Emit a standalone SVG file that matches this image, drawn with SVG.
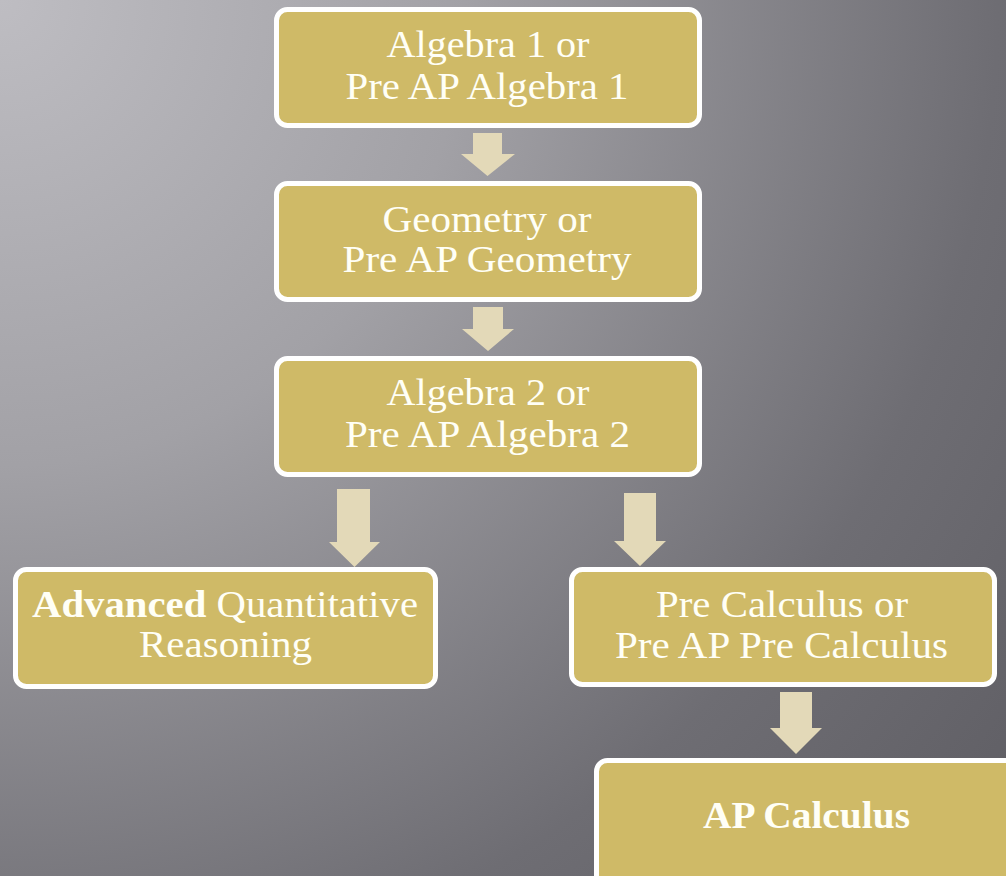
<svg xmlns="http://www.w3.org/2000/svg" width="1006" height="876" viewBox="0 0 1006 876">
<defs>
<radialGradient id="bg" gradientUnits="userSpaceOnUse" cx="0" cy="0" r="1330">
<stop offset="0" stop-color="#bebdc2"/>
<stop offset="0.35" stop-color="#a2a1a6"/>
<stop offset="0.75" stop-color="#6e6d73"/>
<stop offset="1" stop-color="#5e5d63"/>
</radialGradient>
<style>
.box{fill:#cfba67;stroke:#ffffff;stroke-width:5}
.t{font-family:"Liberation Serif","Times New Roman",serif;font-size:38px;fill:#fffff6;text-anchor:middle}
.b{font-weight:bold}
.arr{fill:#e3d9b8}
</style>
</defs>
<rect width="1006" height="876" fill="url(#bg)"/>
<g id="connectors">
<polygon class="arr" points="473,133 502,133 502,154 515,154 487.5,176 461,154 473,154"/>
<polygon class="arr" points="473,307 503,307 503,329 514,329 488,351 462,329 473,329"/>
<polygon class="arr" points="337,489 370,489 370,542 380,542 354.5,567 329,542 337,542"/>
<polygon class="arr" points="624,493 656,493 656,541 666,541 640,566 614,541 624,541"/>
<polygon class="arr" points="780,692 812,692 812,728 822,728 796,754 770,728 780,728"/>
</g>
<g id="n1">
<rect class="box" x="276.5" y="9.5" width="423" height="116" rx="11"/>
<text class="t" x="488" y="57" textLength="203" lengthAdjust="spacingAndGlyphs">Algebra 1 or</text>
<text class="t" x="487" y="99" textLength="283" lengthAdjust="spacingAndGlyphs">Pre AP Algebra 1</text>
</g>
<g id="n2">
<rect class="box" x="276.5" y="183.5" width="423" height="116" rx="11"/>
<text class="t" x="487" y="232" textLength="209" lengthAdjust="spacingAndGlyphs">Geometry or</text>
<text class="t" x="487" y="272" textLength="289" lengthAdjust="spacingAndGlyphs">Pre AP Geometry</text>
</g>
<g id="n3">
<rect class="box" x="276.5" y="358.5" width="423" height="116" rx="11"/>
<text class="t" x="488" y="405" textLength="203" lengthAdjust="spacingAndGlyphs">Algebra 2 or</text>
<text class="t" x="487.5" y="447" textLength="285" lengthAdjust="spacingAndGlyphs">Pre AP Algebra 2</text>
</g>
<g id="n4">
<rect class="box" x="15.5" y="569.5" width="420" height="117" rx="11"/>
<text class="t" x="225" y="617" textLength="386" lengthAdjust="spacingAndGlyphs"><tspan class="b">Advanced</tspan> Quantitative</text>
<text class="t" x="225.5" y="657" textLength="173" lengthAdjust="spacingAndGlyphs">Reasoning</text>
</g>
<g id="n5">
<rect class="box" x="571.5" y="569.5" width="423" height="115" rx="11"/>
<text class="t" x="782" y="617" textLength="252" lengthAdjust="spacingAndGlyphs">Pre Calculus or</text>
<text class="t" x="781.5" y="658" textLength="333" lengthAdjust="spacingAndGlyphs">Pre AP Pre Calculus</text>
</g>
<g id="n6">
<rect class="box" x="596.5" y="760.5" width="430" height="130" rx="11"/>
<text class="t b" x="806.5" y="828" textLength="207" lengthAdjust="spacingAndGlyphs">AP Calculus</text>
</g>
</svg>
